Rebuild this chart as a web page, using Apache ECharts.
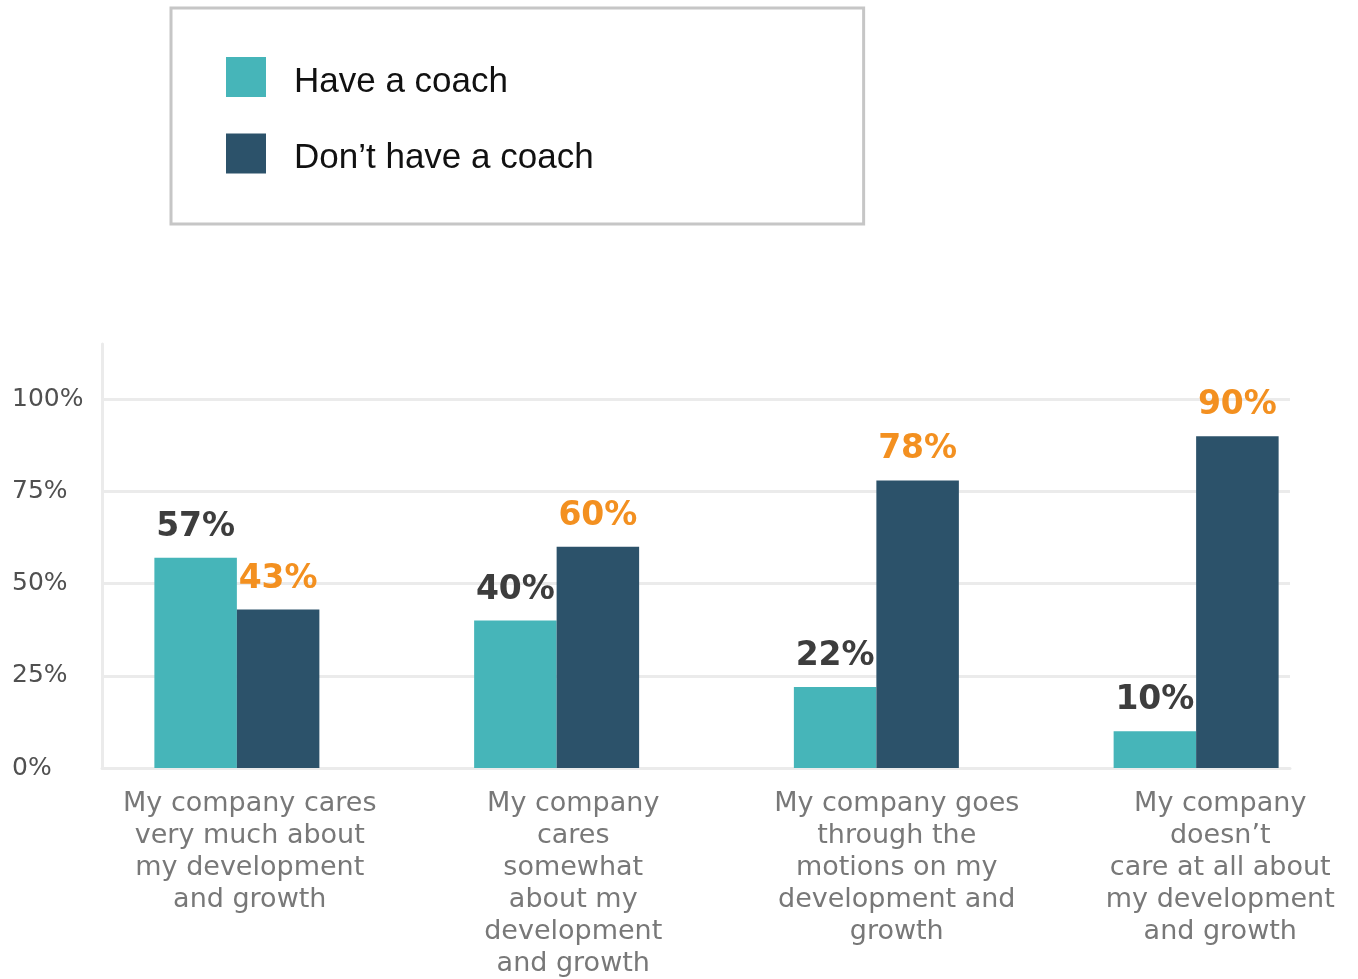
<!DOCTYPE html>
<html>
<head>
<meta charset="utf-8">
<script src="https://cdn.jsdelivr.net/npm/echarts@6/dist/echarts.min.js"></script>
<style>
  html, body { margin: 0; padding: 0; background: #ffffff; }
  #chart { width: 1358px; height: 979px; }
</style>
</head>
<body>
<div id="chart"></div>
<script>
// Survey answers: how much the company cares about employee development
const categories = [
  'My company cares\nvery much about\nmy development\nand growth',
  'My company\ncares\nsomewhat\nabout my\ndevelopment\nand growth',
  'My company goes\nthrough the\nmotions on my\ndevelopment and\ngrowth',
  'My company\ndoesn\u2019t\ncare at all about\nmy development\nand growth'
];
const seriesNames = ['Have a coach', 'Don\u2019t have a coach'];
const haveCoach = [57, 40, 22, 10];
const noCoach = [43, 60, 78, 90];
const yTicks = [0, 25, 50, 75, 100];

const TEAL = '#46b5b9';
const NAVY = '#2c526a';
const ORANGE = '#f39020';
const DARK = '#3d3d3d';
const GRID_LINE = '#ebebeb';
const FONT = '"DejaVu Sans", sans-serif';

const Y_MAX = 115;
const TOP = 344;
const BOTTOM = 211;

const chart = echarts.init(document.getElementById('chart'), null, { renderer: 'canvas' });

const barLabel = (color) => ({
  show: true,
  position: 'top',
  distance: 14,
  formatter: '{c}%',
  color: color,
  fontFamily: FONT,
  fontWeight: 'bold',
  fontSize: 33
});

chart.setOption({
  animation: false,
  backgroundColor: '#ffffff',
  legend: {
    left: 171,
    top: 8,
    orient: 'vertical',
    data: seriesNames,
    itemWidth: 40,
    itemHeight: 40,
    itemGap: 34,
    icon: 'rect',
    padding: [49, 270, 48, 55],
    borderColor: '#c6c6c6',
    borderWidth: 3,
    formatter: (name) => '{t|' + name + '}',
    textStyle: {
      fontFamily: '"Liberation Sans", Arial, sans-serif',
      fontSize: 35,
      color: '#111111',
      rich: {
        t: {
          fontFamily: '"Liberation Sans", Arial, sans-serif',
          fontSize: 35,
          color: '#111111',
          padding: [10, 0, 0, 23]
        }
      }
    }
  },
  grid: [
    // bars
    { left: 77, width: 1279, top: TOP, bottom: BOTTOM, outerBoundsMode: 'none' },
    // axis lines, gridlines and percentage ticks
    { left: 102, right: 68, top: TOP, bottom: BOTTOM, outerBoundsMode: 'none' },
    // category captions
    { left: 88, width: 1294, top: TOP, bottom: BOTTOM, outerBoundsMode: 'none' }
  ],
  xAxis: [
    { gridIndex: 0, type: 'category', data: categories, show: false },
    {
      gridIndex: 1, type: 'category', data: categories,
      axisLine: { show: true, lineStyle: { color: GRID_LINE, width: 3 } },
      axisTick: { show: false },
      axisLabel: { show: false },
      splitLine: { show: false }
    },
    {
      gridIndex: 2, type: 'category', data: categories,
      axisLine: { show: false },
      axisTick: { show: false },
      axisLabel: {
        show: true,
        interval: 0,
        margin: 20,
        color: '#787878',
        fontFamily: FONT,
        fontSize: 27,
        lineHeight: 32,
        align: 'center'
      }
    }
  ],
  yAxis: [
    { gridIndex: 0, type: 'value', min: 0, max: Y_MAX, show: false },
    {
      gridIndex: 1, type: 'value', min: yTicks[0], max: Y_MAX, interval: 25,
      axisLine: { show: true, lineStyle: { color: GRID_LINE, width: 3 } },
      axisTick: { show: false },
      splitLine: { show: true, showMaxLine: false, lineStyle: { color: GRID_LINE, width: 3 } },
      axisLabel: {
        show: true,
        showMaxLabel: false,
        align: 'left',
        margin: 90,
        color: '#505050',
        fontFamily: FONT,
        fontSize: 25,
        formatter: (v) => (yTicks.indexOf(v) >= 0 ? v + '%' : '')
      }
    },
    { gridIndex: 2, type: 'value', min: 0, max: Y_MAX, show: false }
  ],
  series: [
    {
      name: seriesNames[0],
      type: 'bar',
      xAxisIndex: 0,
      yAxisIndex: 0,
      data: haveCoach,
      barWidth: 82.5,
      barGap: '0%',
      itemStyle: { color: TEAL },
      label: barLabel(DARK)
    },
    {
      name: seriesNames[1],
      type: 'bar',
      xAxisIndex: 0,
      yAxisIndex: 0,
      data: noCoach,
      barWidth: 82.5,
      barGap: '0%',
      itemStyle: { color: NAVY },
      label: barLabel(ORANGE)
    }
  ]
});
</script>
</body>
</html>
